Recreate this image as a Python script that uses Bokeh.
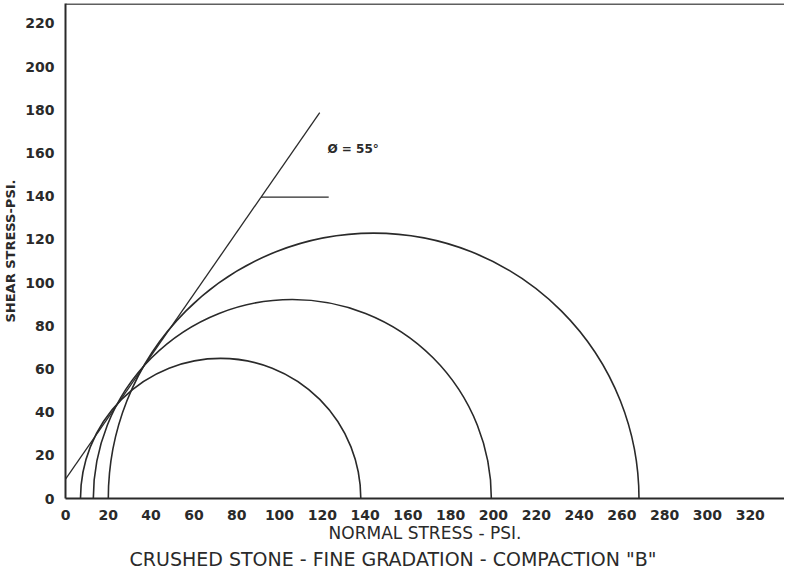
import numpy as np
from bokeh.plotting import figure
from bokeh.models import Range1d, Label, Span, FixedTicker, Title
from bokeh.embed import file_html
from bokeh.resources import INLINE

# Mohr circles (minor / major principal stress, psi)
sigma3 = [7, 13, 20]
sigma1 = [138, 199, 268]

# failure envelope
cohesion = 9.0
phi_deg = 55.0
envelope_end_x = 118.8
marker_y = 139.5
marker_end_x = 123.0

x_ticks = list(range(0, 321, 20))
y_ticks = list(range(0, 221, 20))

INK = "#2a2a2a"
FONT = "DejaVu Sans"

p = figure(frame_width=719, frame_height=495, output_backend="svg", toolbar_location=None,
           x_range=Range1d(0, 336.0), y_range=Range1d(0, 229.2),
           min_border_left=64, min_border_right=0, min_border_top=3,
           min_border_bottom=0)
p.grid.visible = False
p.outline_line_color = None
p.background_fill_color = "white"

for ax in (p.xaxis[0], p.yaxis[0]):
    ax.axis_line_color = INK
    ax.axis_line_width = 2
    ax.major_tick_line_color = None
    ax.minor_tick_line_color = None
    ax.major_label_text_font = FONT
    ax.major_label_text_font_size = "14px"
    ax.major_label_text_color = INK
    ax.major_label_text_font_style = "bold"
    ax.axis_label_text_font = FONT
    ax.axis_label_text_color = INK
p.xaxis.ticker = FixedTicker(ticks=x_ticks)
p.yaxis.ticker = FixedTicker(ticks=y_ticks)
p.xaxis.major_label_standoff = 5
p.yaxis.major_label_standoff = 5

p.yaxis.axis_label = "SHEAR STRESS-PSI."
p.yaxis.axis_label_text_font_size = "13px"
p.yaxis.axis_label_text_font_style = "bold"
p.yaxis.axis_label_standoff = 4

p.xaxis.axis_label = "NORMAL STRESS - PSI."
p.xaxis.axis_label_text_font_size = "17px"
p.xaxis.axis_label_text_font_style = "normal"
p.xaxis.axis_label_standoff = 0

p.add_layout(Title(text='CRUSHED STONE - FINE GRADATION - COMPACTION "B"', align="left",
                   offset=64, standoff=0, text_font=FONT, text_font_size="19px",
                   text_font_style="normal", text_color=INK), "below")

# top frame line
p.add_layout(Span(location=229.0, dimension="width", line_color=INK, line_width=1.5))

# circles
centers = [(a + b) / 2 for a, b in zip(sigma3, sigma1)]
radii = [(b - a) / 2 for a, b in zip(sigma3, sigma1)]
p.arc(x=centers, y=[0] * len(centers), radius=radii, start_angle=0, end_angle=np.pi,
      line_color=INK, line_width=1.6)

# envelope
t = np.tan(np.radians(phi_deg))
p.segment(x0=[0], y0=[cohesion], x1=[envelope_end_x], y1=[cohesion + envelope_end_x * t],
          line_color=INK, line_width=1.3)
p.segment(x0=[(marker_y - cohesion) / t], y0=[marker_y], x1=[marker_end_x], y1=[marker_y],
          line_color=INK, line_width=1.3)

p.add_layout(Label(x=122.4, y=162, text="Ø = 55°", text_font=FONT, text_font_size="12px",
                   text_font_style="bold", text_color=INK, text_baseline="middle"))

open("out.html", "w").write(file_html(p, INLINE))
